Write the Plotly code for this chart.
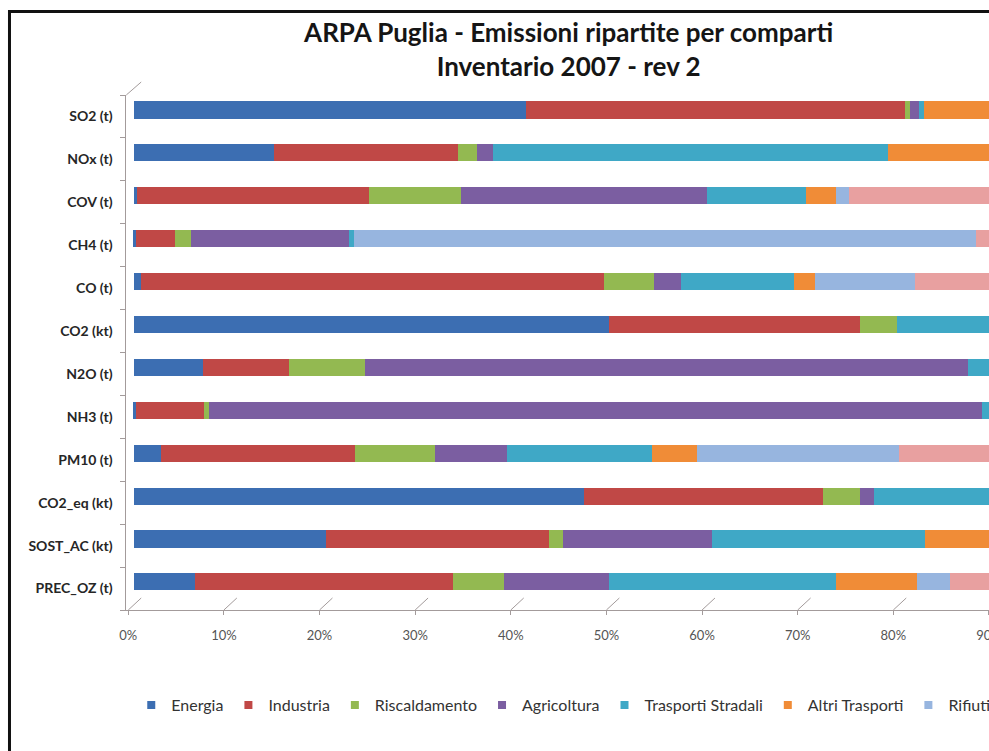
import plotly.graph_objects as go

# ---------------- data ----------------
categories = ["SO2 (t)", "NOx (t)", "COV (t)", "CH4 (t)", "CO (t)", "CO2 (kt)",
              "N2O (t)", "NH3 (t)", "PM10 (t)", "CO2_eq (kt)", "SOST_AC (kt)", "PREC_OZ (t)"]
series_names = ["Energia", "Industria", "Riscaldamento", "Agricoltura",
                "Trasporti Stradali", "Altri Trasporti", "Rifiuti", "Natura"]
energia = [41.0, 14.6, 0.3, 0.2, 0.7, 49.6, 7.2, 0.2, 2.8, 47.0, 20.1, 6.4]
industria = [39.6, 19.3, 24.3, 4.1, 48.4, 26.3, 9.0, 7.1, 20.3, 25.0, 23.3, 26.9]
riscaldamento = [0.5, 1.9, 9.6, 1.6, 5.2, 3.9, 7.9, 0.5, 8.3, 3.9, 1.4, 5.4]
agricoltura = [1.0, 1.75, 25.7, 16.55, 2.9, 0.0, 63.1, 80.8, 7.6, 1.5, 15.6, 10.9]
trasporti_stradali = [0.5, 41.25, 10.3, 0.5, 11.8, 17.5, 5.5, 1.5, 15.1, 16.0, 22.3, 23.8]
altri_trasporti = [17.3, 21.2, 3.2, 0.0, 2.2, 2.0, 0.8, 0.3, 4.8, 2.0, 15.8, 8.5]
rifiuti = [0.1, 0.0, 1.3, 65.1, 10.4, 0.7, 4.5, 3.0, 21.1, 4.6, 1.5, 3.4]
natura = [0.0, 0.0, 25.3, 11.9, 18.4, 0.0, 2.0, 6.6, 20.0, 0.0, 0.0, 14.7]
x_ticks = [0, 10, 20, 30, 40, 50, 60, 70, 80, 90, 100]

series_values = [energia, industria, riscaldamento, agricoltura,
                 trasporti_stradali, altri_trasporti, rifiuti, natura]
colors = ["#3C6EB2", "#C04846", "#93B951", "#7B5EA1", "#3FA8C6",
          "#F08C37", "#97B5DF", "#E8A0A0"]

# ---------------- geometry (pixels, in screen coordinates) ----------------
W, H = 1180, 751
OFF_X, OFF_Y = 8, 0
PX_PER_PCT = 9.62
RIGHT = 1110
BACK_X0, BACK_TOP, BACK_BOT = 143, 82, 598
BAR_X0 = 136
FRONT_X0, FRONT_LEFT, FRONT_TOP, FRONT_BOT = 130, 128, 95, 610
ROW_STEP = 42.9
ROW0 = 110


def fx(p):
    return (p - OFF_X) / W


def fy(p):
    return 1 - (p - OFF_Y) / H


fig = go.Figure()
for name, vals, col in zip(series_names, series_values, colors):
    fig.add_trace(go.Bar(
        x=vals, y=categories, orientation="h", name=name,
        marker=dict(color=col, line=dict(width=0)),
        xaxis="x2", yaxis="y2", showlegend=False, legendgroup=name,
    ))
# small square legend keys (as in the original legend)
for name, col in zip(series_names, colors):
    fig.add_trace(go.Scatter(
        x=[None], y=[None], mode="markers", name=name, legendgroup=name,
        marker=dict(symbol="square", size=8, color=col),
        xaxis="x2", yaxis="y2", showlegend=True, hoverinfo="skip",
    ))

grid_col = "#8F8585"
line_col = "#A39B9B"

back_range = [-0.05, (RIGHT - BACK_X0) / PX_PER_PCT]
bar_range = [(FRONT_LEFT - BAR_X0) / PX_PER_PCT, (RIGHT - BAR_X0) / PX_PER_PCT]
front_range = [(FRONT_LEFT - FRONT_X0) / PX_PER_PCT, (RIGHT - FRONT_X0) / PX_PER_PCT]

n = len(categories)
bar_y_range = [(FRONT_BOT - ROW0) / ROW_STEP, (BACK_TOP - ROW0) / ROW_STEP]

fig.update_layout(
    width=W, height=H, autosize=False,
    margin=dict(l=0, r=0, t=0, b=0),
    paper_bgcolor="white", plot_bgcolor="rgba(0,0,0,0)",
    barmode="stack", bargap=0.6,
    font=dict(family="Lato, Carlito, Calibri, sans-serif", color="#333333"),
    title=dict(
        text="ARPA Puglia - Emissioni ripartite per comparti<br>Inventario 2007 - rev 2",
        font=dict(family="Lato, Carlito, sans-serif", size=26, color="#151515", weight="bold"),
        x=fx(573), xanchor="center", xref="paper",
        y=fy(42), yanchor="middle", yref="paper",
    ),
    xaxis=dict(domain=[fx(BACK_X0), fx(RIGHT)], range=back_range, anchor="y",
               tickvals=x_ticks, showticklabels=False, showgrid=True,
               gridcolor=grid_col, gridwidth=1, zeroline=False,
               side="top", showline=True, linecolor=line_col, linewidth=1, ticks=""),
    yaxis=dict(domain=[fy(BACK_BOT), fy(BACK_TOP)], range=[0, 1], anchor="x",
               showticklabels=False, showgrid=False, zeroline=False, showline=False),
    xaxis2=dict(domain=[fx(FRONT_LEFT), fx(RIGHT)], range=bar_range, anchor="y2",
                showticklabels=False, showgrid=False, zeroline=False, showline=False),
    yaxis2=dict(domain=[fy(FRONT_BOT), fy(BACK_TOP)], range=bar_y_range, anchor="x2",
                type="category", categoryorder="array", categoryarray=categories,
                showticklabels=False, showgrid=False, zeroline=False, showline=False),
    xaxis3=dict(domain=[fx(FRONT_LEFT), fx(RIGHT)], range=front_range, anchor="y3",
                tickvals=x_ticks, ticktext=[f"{t}%" for t in x_ticks],
                showgrid=False, zeroline=False, showline=True, linecolor=line_col,
                linewidth=1, ticks="outside", ticklen=4, tickcolor=line_col,
                tickfont=dict(size=13, color="#555555"), ticklabelstandoff=9),
    yaxis3=dict(domain=[fy(FRONT_BOT), fy(FRONT_TOP)], range=[n - 0.5, -0.5], anchor="x3",
                tickvals=list(range(n)), ticktext=categories,
                showgrid=False, zeroline=False, showline=True, linecolor=line_col,
                linewidth=1, ticks="",
                minor=dict(tickvals=[i - 0.5 for i in range(n + 1)], ticks="outside",
                           ticklen=5, tickcolor=line_col, showgrid=False),
                tickfont=dict(size=14, color="#262626", weight="bold"),
                ticklabelstandoff=10),
    legend=dict(orientation="h", x=fx(133), xanchor="left", y=fy(705), yanchor="middle",
                font=dict(size=16, color="#333333"), bgcolor="rgba(0,0,0,0)",
                traceorder="normal", itemclick=False, itemdoubleclick=False),
    showlegend=True,
)

shapes = []
# floor diagonals from the front ticks to the back gridlines
depth_dx = (BACK_X0 - FRONT_X0) / PX_PER_PCT
for t in x_ticks:
    shapes.append(dict(type="line", xref="x3", yref="paper",
                       x0=t, y0=fy(FRONT_BOT), x1=t + depth_dx, y1=fy(BACK_BOT),
                       line=dict(color=line_col, width=1), layer="below"))
# left wall top diagonal
shapes.append(dict(type="line", xref="paper", yref="paper",
                   x0=fx(FRONT_LEFT), y0=fy(FRONT_TOP), x1=fx(BACK_X0), y1=fy(BACK_TOP),
                   line=dict(color=line_col, width=1), layer="below"))
# outer frame
shapes.append(dict(type="rect", xref="paper", yref="paper",
                   x0=fx(10.5), y0=fy(H + 30), x1=fx(W - 10), y1=fy(11.5),
                   line=dict(color="#111111", width=3), fillcolor="rgba(0,0,0,0)",
                   layer="above"))
fig.update_layout(shapes=shapes)

fig.write_html("out.html", config={"displayModeBar": False},
               post_script="document.body.style.margin='0';document.body.style.overflow='hidden';")
